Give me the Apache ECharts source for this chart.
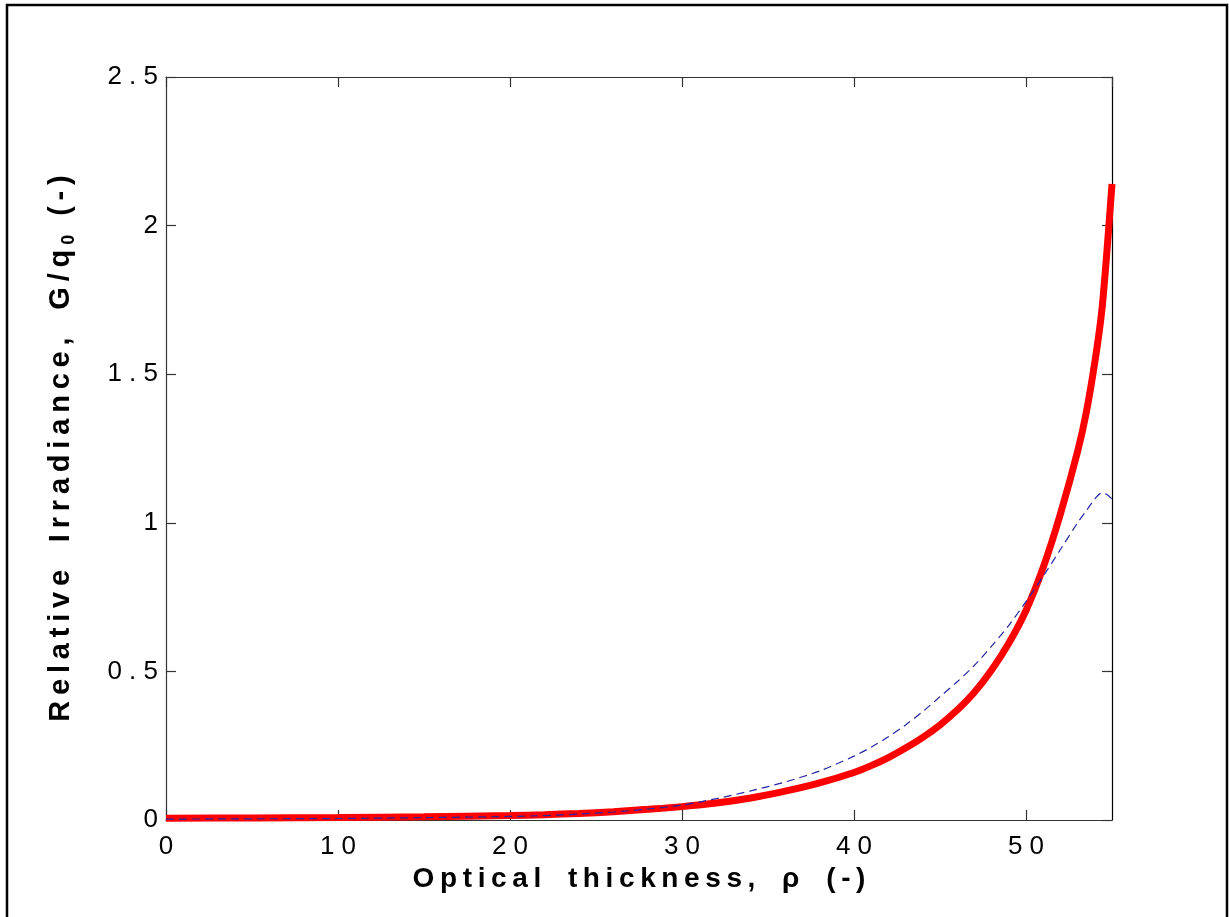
<!DOCTYPE html>
<html>
<head>
<meta charset="utf-8">
<script src="https://cdn.jsdelivr.net/npm/echarts@6/dist/echarts.min.js"></script>
<style>
html,body{margin:0;padding:0;background:#fff;}
#c{width:1229px;height:917px;}
</style>
</head>
<body>
<div id="c"></div>
<script>
// Optical thickness (x)
const rho = [0,5,10,15,20,22,24,26,28,30,32,34,36,38,40,41,42,43,44,45,46,47,48,49,50,51,52,53,53.5,54,54.4,54.7,55];
// Thick red curve
const redVals = [0.006,0.007,0.008,0.011,0.015,0.018,0.022,0.028,0.036,0.045,0.057,0.074,0.097,0.125,0.16,0.183,0.21,0.242,0.278,0.32,0.37,0.43,0.505,0.595,0.705,0.85,1.03,1.24,1.37,1.54,1.71,1.91,2.14];
// Thin blue dashed curve
const blueVals = [0.003,0.004,0.005,0.008,0.012,0.015,0.02,0.027,0.037,0.05,0.072,0.098,0.128,0.165,0.215,0.245,0.28,0.32,0.365,0.415,0.465,0.52,0.585,0.655,0.735,0.82,0.91,1.00,1.04,1.08,1.10,1.095,1.08];
// Axis ticks
const xTicks = [0,10,20,30,40,50];
const yTicks = [0,0.5,1,1.5,2,2.5];
const xTitle = 'Optical thickness, ρ (-)';
const yTitleMain = 'Relative Irradiance, G/q';
const yTitleSub = '0';
const yTitleEnd = ' (-)';

const sp = s => String(s).split('').join(' ');
const tsp = s => String(s).split('').join('\u2009').replace(/\u2009 \u2009/g,'\u2009  \u2009');

const FONT = '"Liberation Sans", Arial, Helvetica, sans-serif';
const axisColor = '#333';

const chart = echarts.init(document.getElementById('c'), null, {renderer:'canvas'});
chart.setOption({
  backgroundColor:'#fff',
  animation:false,
  graphic:[{
    type:'rect', shape:{x:7,y:5,width:1220,height:1000},
    style:{fill:'none',stroke:'#000',lineWidth:2.5}, silent:true
  }],
  grid:{left:166, top:77, width:946, height:743},
  xAxis:[{
    type:'value', min:0, max:55, interval:10, position:'bottom',
    axisLine:{show:true,onZero:false,lineStyle:{color:axisColor,width:1.2}},
    axisTick:{show:true,inside:true,length:10,lineStyle:{color:axisColor,width:1.2}},
    axisLabel:{show:true,margin:14,fontFamily:FONT,fontSize:26,color:'#000',
      showMaxLabel:false, formatter:v=> xTicks.includes(v)?sp(v):''},
    splitLine:{show:false},
    name: tsp(xTitle),
    nameLocation:'middle', nameGap:41,
    nameTextStyle:{fontFamily:FONT,fontSize:28,fontWeight:'bold',color:'#000'}
  },{
    type:'value', min:0, max:55, interval:10, position:'top',
    axisLine:{show:true,onZero:false,lineStyle:{color:axisColor,width:1.2}},
    axisTick:{show:true,inside:true,length:10,lineStyle:{color:axisColor,width:1.2}},
    axisLabel:{show:false}, splitLine:{show:false}
  }],
  yAxis:[{
    type:'value', min:0, max:2.5, interval:0.5, position:'left',
    axisLine:{show:true,onZero:false,lineStyle:{color:axisColor,width:1.2}},
    axisTick:{show:true,inside:true,length:10,lineStyle:{color:axisColor,width:1.2}},
    axisLabel:{show:true,margin:8,fontFamily:FONT,fontSize:26,color:'#000',
      formatter:v=> yTicks.includes(v)?sp(v):''},
    splitLine:{show:false},
    name: '{m|'+tsp(yTitleMain)+'}{s|'+yTitleSub+'}{m|'+tsp(yTitleEnd)+'}',
    nameLocation:'middle', nameGap:88, nameRotate:90,
    nameTextStyle:{fontFamily:FONT,fontSize:29,fontWeight:'bold',color:'#000',
      rich:{
        m:{fontFamily:FONT,fontSize:29,fontWeight:'bold',color:'#000'},
        s:{fontFamily:FONT,fontSize:18,fontWeight:'bold',color:'#000',padding:[16,5,0,5]}
      }}
  },{
    type:'value', min:0, max:2.5, interval:0.5, position:'right',
    axisLine:{show:true,onZero:false,lineStyle:{color:'#000',width:1.2}},
    axisTick:{show:true,inside:true,length:10,lineStyle:{color:axisColor,width:1.2}},
    axisLabel:{show:false}, splitLine:{show:false}
  }],
  series:[{
    type:'line', xAxisIndex:0, yAxisIndex:0,
    data: rho.map((x,i)=>[x,redVals[i]]),
    showSymbol:false, smooth:0.3, clip:true,
    lineStyle:{color:'#ff0000',width:7}, z:2
  },{
    type:'line', xAxisIndex:0, yAxisIndex:0,
    data: rho.map((x,i)=>[x,blueVals[i]]),
    showSymbol:false, smooth:0.3, clip:true,
    lineStyle:{color:'#2525a5',width:1.2,type:[8,5]}, z:3
  }]
});
</script>
</body>
</html>
